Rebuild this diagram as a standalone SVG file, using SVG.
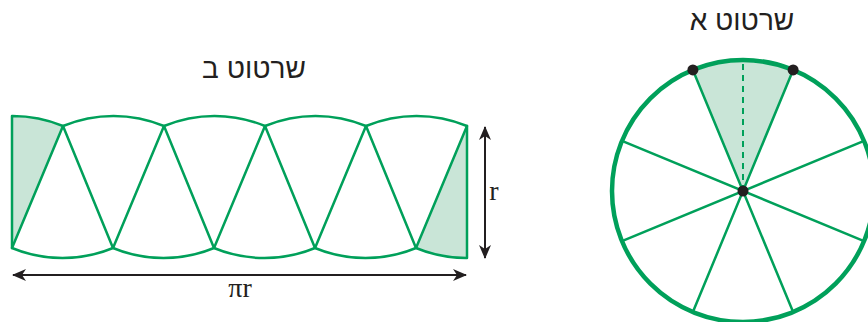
<svg xmlns="http://www.w3.org/2000/svg" width="868" height="322" viewBox="0 0 868 322">
<style>
.g{fill:none;stroke:#00a05a;stroke-width:2.5;stroke-linejoin:round;stroke-linecap:round}
.sh{fill:#c9e5d7;stroke:none}
.ttl{font-family:"Liberation Sans","DejaVu Sans",sans-serif;font-size:28px;fill:#231f20;text-anchor:middle}
.lbl{font-family:"Liberation Serif","Times New Roman",serif;font-size:28px;fill:#231f20;text-anchor:middle}
.ar{stroke:#231f20;stroke-width:2;fill:none}
.dot{fill:#231f20}
</style>
<defs>
<marker id="ah" viewBox="0 0 14 12" refX="13" refY="6" markerWidth="14" markerHeight="12" markerUnits="userSpaceOnUse" orient="auto-start-reverse">
<path d="M0,0 L14,6 L0,12 L4,6 Z" fill="#231f20"/>
</marker>
</defs>
<g id="title-b"><text class="ttl" x="254" y="78">שרטוט ב</text></g>
<g id="title-a"><text class="ttl" x="742" y="30">שרטוט א</text></g>
<g id="strip">
<path class="sh" d="M12,248 L12,116 A132,132 0 0 1 63,126 Z"/>
<path class="sh" d="M467,126 L416,248 A132,132 0 0 0 467,258 Z"/>
<path class="g" d="M12,248 L12,116 A132,132 0 0 1 63,126 A132,132 0 0 1 164,126 A132,132 0 0 1 265,126 A132,132 0 0 1 366,126 A132,132 0 0 1 467,126 L467,258 A132,132 0 0 1 416,248 A132,132 0 0 1 315,248 A132,132 0 0 1 214,248 A132,132 0 0 1 113,248 A132,132 0 0 1 12,248 Z"/>
<path class="g" d="M12,248 L63,126 L113,248 L164,126 L214,248 L265,126 L315,248 L366,126 L416,248 L467,126"/>
</g>
<g id="circle">
<path class="sh" d="M743,191 L692.87,69.97 A131,131 0 0 1 793.13,69.97 Z"/>
<circle cx="743" cy="191" r="131" fill="none" stroke="#00a05a" stroke-width="4.5"/>
<path class="g" d="M692.87,69.97 L793.13,312.03 M793.13,69.97 L692.87,312.03 M864.03,140.87 L621.97,241.13 M864.03,241.13 L621.97,140.87"/>
<line x1="743" y1="191" x2="743" y2="62" stroke="#00a05a" stroke-width="2" stroke-dasharray="6,5"/>
<circle class="dot" cx="692.87" cy="69.97" r="5.5"/>
<circle class="dot" cx="793.13" cy="69.97" r="5.5"/>
<circle class="dot" cx="743" cy="191" r="5.5"/>
</g>
<g id="connectors">
<line class="ar" x1="13" y1="275" x2="466" y2="275" marker-start="url(#ah)" marker-end="url(#ah)"/>
<line class="ar" x1="485" y1="127" x2="485" y2="258" marker-start="url(#ah)" marker-end="url(#ah)"/>
</g>
<g id="labels">
<text class="lbl" x="240" y="297">πr</text>
<text class="lbl" x="494" y="200">r</text>
</g>
</svg>
